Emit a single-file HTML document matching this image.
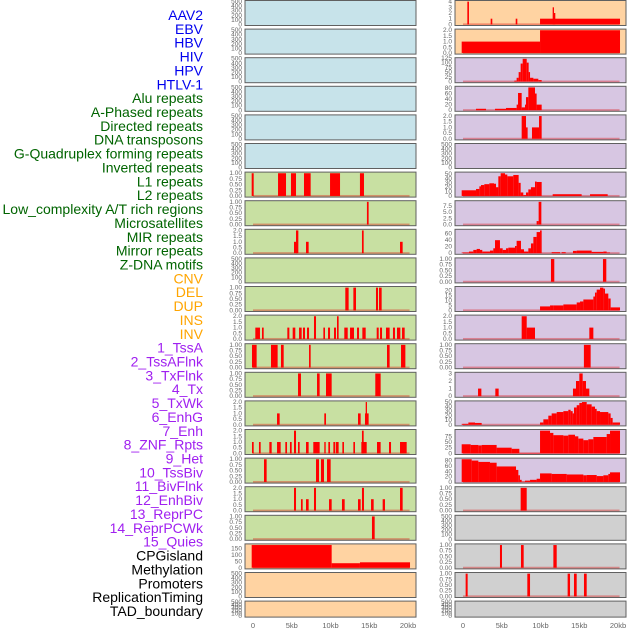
<!DOCTYPE html>
<html><head><meta charset="utf-8"><style>
html,body{margin:0;padding:0;background:#fff;}
svg{display:block;font-family:"Liberation Sans",sans-serif;}
</style></head><body>
<svg id="chart" width="630" height="630" viewBox="0 0 630 630" xmlns="http://www.w3.org/2000/svg">
<g id="labels"></g>
<g id="panels"></g>
<g id="xaxes"></g>
</svg>
<script>
const NS="http://www.w3.org/2000/svg";
const trackLabels=["AAV2","EBV","HBV","HIV","HPV","HTLV-1","Alu repeats","A-Phased repeats","Directed repeats","DNA transposons","G-Quadruplex forming repeats","Inverted repeats","L1 repeats","L2 repeats","Low_complexity A/T rich regions","Microsatellites","MIR repeats","Mirror repeats","Z-DNA motifs","CNV","DEL","DUP","INS","INV","1_TssA","2_TssAFlnk","3_TxFlnk","4_Tx","5_TxWk","6_EnhG","7_Enh","8_ZNF_Rpts","9_Het","10_TssBiv","11_BivFlnk","12_EnhBiv","13_ReprPC","14_ReprPCWk","15_Quies","CPGisland","Methylation","Promoters","ReplicationTiming","TAD_boundary"];
const labelColors=[6,"#0000ee",13,"#006400",5,"#ffa500",15,"#a020f0",5,"#000000"];
const xTickValues=[0,5,10,15,20];
const xTickLabels=["0","5kb","10kb","15kb","20kb"];

const T500=["0","100","200","300","400","500"];
const T1=["0.00","0.25","0.50","0.75","1.00"];
const T2=["0.0","0.5","1.0","1.5","2.0"];
// left column data
const l7=[[-0.17,0.09,1],[3.23,4.26,1],[4.9,5.55,1],[6.58,7.44,1],[9.94,11.23,1],[13.8,14.32,1]];
const l8=[[14.7,14.92,1]];
const l9=[[5.29,5.72,1],[5.55,5.85,2],[6.84,7.18,1],[14.06,14.28,2],[18.97,19.31,1]];
const l11=[[11.91,12.34,1],[12.95,13.29,1],[15.87,16.13,1],[16.26,16.6,1]];
const l12=[[0.3,0.9,1],[1.16,1.38,1],[4.43,4.69,1],[5.12,5.46,1],[5.94,6.28,1],[6.45,6.71,1],[6.97,7.23,1],[7.87,8.13,2],[9.08,9.29,1],[9.68,9.94,1],[10.45,10.71,1],[10.84,11.05,2],[11.78,12.22,1],[12.52,13.03,1],[13.42,13.68,1],[14.11,14.54,1],[15.96,16.22,1],[16.39,16.65,1],[17.16,17.63,1],[18.06,18.32,1],[18.58,19.01,1],[19.23,19.57,1]];
const l13=[[-0.13,0.47,1],[2.32,3.18,1],[3.61,3.96,1],[7.23,7.44,1],[17.29,17.63,1],[19.1,19.66,1]];
const l14=[[5.81,6.19,1],[8.26,8.6,1],[9.42,10.15,1],[15.78,16.47,1]];
const l15=[[3.1,3.44,1],[9.2,9.42,1],[13.55,13.89,1],[14.45,14.92,1],[14.54,14.71,2]];
const l16=[[-0.13,0.09,1],[0.77,0.99,1],[2.11,2.41,1],[3.1,3.57,1],[4.17,4.39,1],[4.77,4.99,1],[5.29,5.55,2],[5.81,6.02,1],[6.84,7.18,1],[7.78,8.6,1],[9.2,9.38,1],[9.72,9.94,1],[10.37,10.62,1],[10.71,11.05,1],[11.53,11.74,1],[12.95,13.16,1],[13.98,14.67,1],[14.06,14.28,2],[16.0,16.47,1],[17.55,17.81,1],[18.97,19.83,1]];
const l17=[[1.42,1.76,1],[8.13,8.52,1],[8.77,9.16,1],[9.55,10.02,1]];
const l18=[[5.29,5.55,2],[6.19,6.41,1],[6.84,7.18,1],[7.87,8.13,2],[9.81,10.15,1],[11.48,11.83,1],[13.55,13.89,1],[14.06,14.32,2],[15.23,15.57,1],[16.73,17.03,1],[18.97,19.31,2]];
const l19=[[15.35,15.7,1]];
const l20=[[-0.17,10.15,175],[10.15,13.8,35],[13.8,20.26,42]];
// right column data
const r1=[[0.56,0.77,4],[3.57,3.78,1],[6.8,7.01,1],[9.94,20.26,1],[11.57,11.74,3],[11.74,11.91,2]];
const r2=[[-0.17,9.94,1],[9.94,20.26,2]];
const r3=[[6.62,6.92,5],[6.92,7.18,20],[7.18,7.44,50],[7.44,7.7,95],[7.7,8.22,120],[8.22,8.47,100],[8.47,8.65,50],[8.65,9.08,20],[9.08,9.72,15],[9.72,10.15,8]];
const r4=[[1.68,2.97,5],[4.13,5.55,5],[5.55,6.92,8],[6.92,7.1,20],[7.1,7.57,62],[7.57,8.0,10],[8.0,8.13,20],[8.13,8.43,47],[8.43,9.29,82],[9.29,9.5,60],[9.5,10.15,20]];
const r5=[[7.57,8.13,2],[8.13,8.34,1],[8.9,9.81,1],[9.81,10.15,2]];
const r7=[[-0.17,1.68,13],[1.68,2.11,16],[2.11,2.32,22],[2.32,2.75,25],[2.75,3.4,27],[3.4,4.0,29],[4.0,4.26,28],[4.26,4.56,20],[4.56,4.86,45],[4.86,5.42,52],[5.42,5.72,49],[5.72,6.49,45],[6.49,7.18,48],[7.18,7.44,30],[7.44,7.78,8],[7.78,8.13,2],[8.13,8.43,8],[8.43,8.77,15],[8.77,9.29,20],[9.29,9.5,33],[9.5,10.15,32],[11.57,15.31,4],[16.39,18.67,4]];
const r8=[[9.5,9.76,1.4],[9.76,10.11,9.1]];
const r9=[[-0.17,0.77,2],[0.77,1.33,5],[1.33,1.76,10],[1.76,2.19,13],[2.19,2.49,10],[2.49,3.48,5],[3.48,3.91,8],[3.91,4.13,15],[4.13,4.77,40],[4.77,5.12,15],[5.12,5.55,10],[5.55,5.85,15],[5.85,6.71,17],[6.71,6.92,22],[6.92,7.48,38],[7.48,7.87,12],[7.87,8.43,5],[8.43,8.77,15],[8.77,9.08,30],[9.08,9.5,50],[9.5,9.94,65],[9.94,10.15,70],[11.44,12.52,3],[12.73,13.25,3],[14.19,14.67,7],[14.67,16.6,8],[16.6,18.11,4],[18.11,18.54,5],[18.54,18.97,2]];
const r10=[[11.35,11.78,1],[18.06,18.49,1]];
const r11=[[9.94,11.23,4],[11.23,11.66,5],[11.66,12.95,5],[12.95,14.67,6],[14.67,15.1,8],[15.1,15.53,9],[15.53,16.82,11],[16.82,17.03,14],[17.03,17.25,18],[17.25,17.68,21],[17.68,18.11,23],[18.11,18.32,22],[18.32,18.75,17],[18.75,19.05,12],[19.05,20.26,3]];
const r12=[[7.57,8.22,2],[8.22,9.29,1],[16.3,16.82,1]];
const r13=[[15.6,16.47,1]];
const r14=[[1.94,2.37,1],[4.17,4.6,1],[14.19,14.58,1],[14.58,15.01,2],[15.01,15.44,3],[15.44,15.87,2],[15.87,16.3,1]];
const r15=[[-0.17,0.69,2],[0.69,1.55,5],[1.55,2.41,4],[9.94,10.37,5],[10.37,11.01,12],[11.01,11.44,20],[11.44,12.09,25],[12.09,12.95,28],[12.95,13.59,30],[13.59,13.89,33],[13.89,14.15,30],[14.15,14.32,25],[14.32,14.67,38],[14.67,15.01,43],[15.01,15.35,48],[15.35,15.96,50],[15.96,16.6,45],[16.6,17.03,40],[17.03,17.25,35],[17.25,17.68,30],[17.68,18.75,28],[18.75,19.05,25],[19.05,19.31,15],[19.31,20.26,5]];
const r16=[[-0.17,0.99,40],[0.99,1.98,37],[1.98,2.41,35],[2.41,4.34,37],[4.34,6.28,25],[6.28,7.27,20],[7.27,9.94,2],[9.94,11.23,100],[11.23,11.66,90],[11.66,12.95,80],[12.95,13.59,78],[13.59,14.45,82],[14.45,14.88,75],[14.88,15.53,65],[15.53,16.17,58],[16.17,16.82,62],[16.82,18.54,72],[18.54,18.97,85],[18.97,20.26,100]];
const r17=[[-0.17,1.12,85],[1.12,1.98,80],[1.98,3.48,75],[3.48,4.34,72],[4.34,6.84,58],[6.84,7.14,45],[7.14,7.35,25],[7.35,7.57,8],[7.57,8.0,1],[8.0,8.65,5],[8.65,9.5,8],[9.5,9.94,12],[9.94,11.44,32],[11.44,13.38,30],[13.38,15.53,28],[15.53,15.96,25],[15.96,17.25,26],[17.25,18.11,22],[18.11,18.75,25],[18.75,18.97,30],[18.97,20.26,36]];
const r18=[[7.44,8.22,1]];
const r20=[[4.77,5.03,1],[7.48,7.83,1],[11.66,12.09,1]];
const r21=[[0.34,0.6,1],[8.3,8.65,1],[13.5,13.81,1],[14.32,14.67,1],[15.61,15.96,1]];

const BLUE="#c7e3ea",GREEN="#c8e0a2",PEACH="#ffd3a2",PURPLE="#d7c6e2",GREY="#d0d0d0";
// [bg, tickLabels, tickValues(null=evenly 0..500), bars]
const leftPanels=[
[BLUE,T500,null,null],[BLUE,T500,null,null],[BLUE,T500,null,null],[BLUE,T500,null,null],[BLUE,T500,null,null],[BLUE,T500,null,null],
[GREEN,T1,[0,.25,.5,.75,1],l7],[GREEN,T1,[0,.25,.5,.75,1],l8],[GREEN,T2,[0,.5,1,1.5,2],l9],[GREEN,T500,null,null],
[GREEN,T1,[0,.25,.5,.75,1],l11],[GREEN,T2,[0,.5,1,1.5,2],l12],[GREEN,T1,[0,.25,.5,.75,1],l13],[GREEN,T1,[0,.25,.5,.75,1],l14],
[GREEN,T2,[0,.5,1,1.5,2],l15],[GREEN,T2,[0,.5,1,1.5,2],l16],[GREEN,T1,[0,.25,.5,.75,1],l17],[GREEN,T2,[0,.5,1,1.5,2],l18],
[GREEN,T1,[0,.25,.5,.75,1],l19],[PEACH,["0","50","100","150"],[0,50,100,150],l20],[PEACH,T500,null,null],[PEACH,T500,null,null]];
const rightPanels=[
[PEACH,["0","1","2","3","4"],[0,1,2,3,4],r1],[PEACH,T2,[0,.5,1,1.5,2],r2],
[PURPLE,["0","25","50","75","100","125"],[0,25,50,75,100,125],r3],[PURPLE,["0","20","40","60","80"],[0,20,40,60,80],r4],
[PURPLE,T2,[0,.5,1,1.5,2],r5],[PURPLE,T500,null,null],[PURPLE,["0","10","20","30","40","50"],[0,10,20,30,40,50],r7],
[PURPLE,["0.0","2.5","5.0","7.5"],[0,2.5,5,7.5],r8],[PURPLE,["0","20","40","60"],[0,20,40,60],r9],[PURPLE,T1,[0,.25,.5,.75,1],r10],
[PURPLE,["0","5","10","15","20"],[0,5,10,15,20],r11],[PURPLE,T2,[0,.5,1,1.5,2],r12],[PURPLE,T1,[0,.25,.5,.75,1],r13],
[PURPLE,["0","1","2","3"],[0,1,2,3],r14],[PURPLE,["0","10","20","30","40","50"],[0,10,20,30,40,50],r15],
[PURPLE,["0","25","50","75"],[0,25,50,75],r16],[PURPLE,["0","20","40","60","80"],[0,20,40,60,80],r17],
[GREY,T1,[0,.25,.5,.75,1],r18],[GREY,T500,null,null],[GREY,T1,[0,.25,.5,.75,1],r20],[GREY,T1,[0,.25,.5,.75,1],r21],[GREY,T500,null,null]];

function mk(tag,attrs,parent){const e=document.createElementNS(NS,tag);for(const k in attrs)e.setAttribute(k,attrs[k]);parent.appendChild(e);return e;}

// labels
const lg=document.getElementById('labels');
let ci=0,cnt=labelColors[0];
trackLabels.forEach((t,i)=>{
  while(i>=cnt){ci+=2;cnt+=labelColors[ci];}
  const el=mk('text',{x:203,y:15+i*13.86+5,'text-anchor':'end','font-size':'14',fill:labelColors[ci+1]},lg);
  el.textContent=t;
  
  
});

const pg=document.getElementById('panels');
function drawPanel(p,row,col){
  const [bg,tl,tv,bars]=p;
  const px=col===0?245:455, pw=171;
  const top=0.5+row*28.6, h=(row===21?16:25), bottom=top+h;
  const x0=col===0?253:463;
  const xs=kb=>x0+kb*7.75;
  const g=mk('g',{},pg);
  
  
  const r=mk('rect',{x:px,y:top,width:pw,height:h,fill:bg},g);
  
  
  let ys;
  if(bars){
    let m=0;bars.forEach(b=>{if(b[2]>m)m=b[2];});
    ys=v=>bottom-(v+0.05*m)/(1.1*m)*h;
  }
  // ticks
  tl.forEach((lab,i)=>{
    const y=tv&&bars?ys(tv[i]):bottom-1-i*(h-2)/(tl.length-1);
    const t=mk('text',{x:px-3,y:y+2,'text-anchor':'end','font-size':'6.5',fill:'#666'},g);
    t.textContent=lab;
    
    
  });
  if(bars){
    const bl=mk('rect',{x:xs(0),y:ys(0)-1,width:xs(20.2)-xs(0),height:2,fill:'rgba(220,0,0,0.35)'},g);
    
    
    bars.forEach(b=>{
      const y=ys(b[2]),y0=ys(0);
      const br=mk('rect',{x:xs(b[0]),y:y,width:Math.max(xs(b[1])-xs(b[0]),1),height:y0-y,fill:'#ff0000'},g);
      
      
    });
  }
  const fr=mk('rect',{x:px,y:top,width:pw,height:h,fill:'none',stroke:'#606060','stroke-width':1},g);
  
  
}
leftPanels.forEach((p,i)=>drawPanel(p,i,0));
rightPanels.forEach((p,i)=>drawPanel(p,i,1));

const xg=document.getElementById('xaxes');
[253,463].forEach(x0=>{
  xTickValues.forEach((v,i)=>{
    const t=mk('text',{x:x0+v*7.75,y:628,'text-anchor':'middle','font-size':'7.5',fill:'#666'},xg);
    t.textContent=xTickLabels[i];
    
    
  });
});
</script>
</body></html>
